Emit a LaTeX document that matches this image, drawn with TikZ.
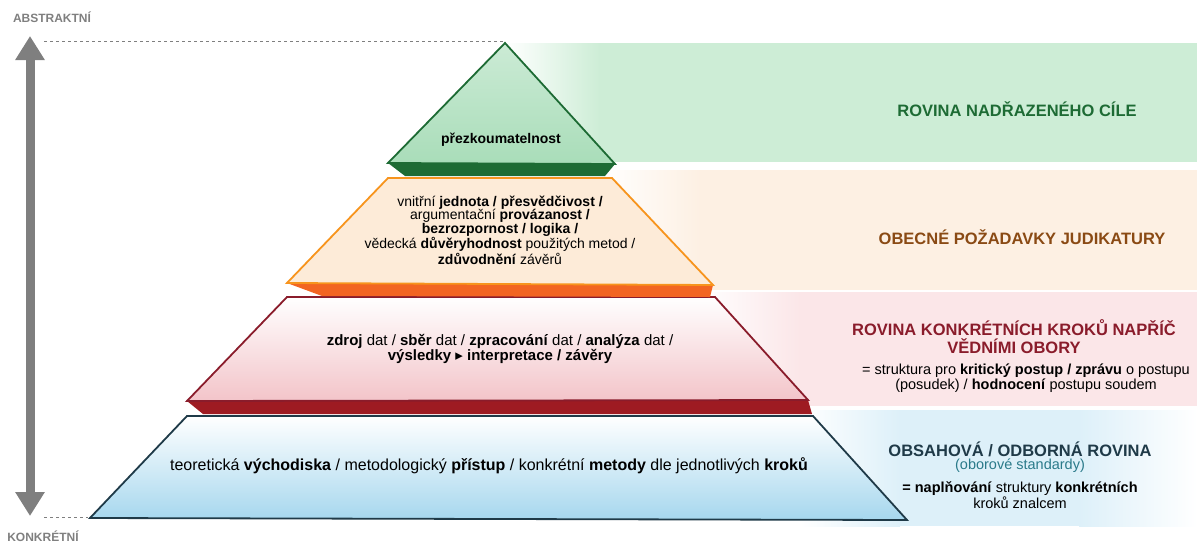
\documentclass[tikz,border=0pt]{standalone}
\usepackage{fontspec}
\setmainfont{Liberation Sans}
\newfontfamily\symfont{DejaVu Sans}
\usetikzlibrary{positioning}
\usetikzlibrary{calc}
\usetikzlibrary{arrows.meta}
\definecolor{goalgreen}{HTML}{1D6B34}
\definecolor{goalfill}{HTML}{A9DDB9}
\definecolor{goalband}{HTML}{CDEDD6}
\definecolor{judorange}{HTML}{F7941D}
\definecolor{judslab}{HTML}{F26522}
\definecolor{judfill}{HTML}{FDEBD8}
\definecolor{judband}{HTML}{FDF0E3}
\definecolor{judtext}{HTML}{8A4A14}
\definecolor{stepred}{HTML}{8A1C2B}
\definecolor{stepslab}{HTML}{9E1B22}
\definecolor{stepfill}{HTML}{F3C4C9}
\definecolor{stepband}{HTML}{FBE6E8}
\definecolor{basenavy}{HTML}{1F3A48}
\definecolor{basefill}{HTML}{A6D7EE}
\definecolor{baseband}{HTML}{DDF0F9}
\definecolor{baseteal}{HTML}{2A7A8A}
\definecolor{axisgray}{HTML}{7F7F7F}
\tikzset{
    % Work in pixels of the page, y running downwards
    px grid/.style={x=1pt, y=-1pt},
%
    % Outline of one pyramid level
    level face/.style={draw=#1, line width=1.8pt, line join=miter},
%
    % The darker thickness under a level
    level slab/.style={fill=#1},
%
    % Soft band behind the labels on the right
    band fade/.style={left color=white, right color=#1},
    band fill/.style={fill=#1},
%
    % Headings of the right hand column
    heading/.style={font=\bfseries\fontsize{16.5}{18}\selectfont, align=center},
    % Plain notes in the pyramid and on the right
    note/.style={font=\fontsize{14.5}{15}\selectfont, align=center}}

\begin{document}
\begin{tikzpicture}[px grid]

\tikzset{
    axis label/.style={text=axisgray, font=\bfseries\fontsize{12}{13}\selectfont},
    guide/.style={axisgray, dashed, line width=0.6pt}}

\useasboundingbox (0,0) rectangle (1197,544);

% bands behind the right column
\shade[band fade=goalband] (505,43) rectangle (600,162);
\path[band fill=goalband] (599,43) rectangle (1197,162);
\shade[band fade=judband] (600,170) rectangle (700,290);
\path[band fill=judband] (699,170) rectangle (1197,290);
\shade[band fade=stepband] (700,292) rectangle (800,406);
\path[band fill=stepband] (799,292) rectangle (1197,406);
\shade[band fade=baseband] (800,410) rectangle (900,526);
\path[band fill=baseband] (899,410) rectangle (1080,526);
\shade[left color=baseband, right color=white] (1079,410) rectangle (1197,526);

% axis on the left
\coordinate (abstract end) at (30,36);
\coordinate (concrete end) at (30,516);
\draw[axisgray, line width=9pt,
    {Triangle[width=28pt, length=24pt]}-{Triangle[width=28pt, length=24pt]}]
    (abstract end) -- (concrete end);
\node (abstract) [axis label] at (52,17) {ABSTRAKTNÍ};
\node (concrete) [axis label] at (43,536) {KONKRÉTNÍ};
\draw[guide] (44,41) -- (503,41);
\draw[guide] (44,517) -- (88,517);

% bottom level
\path[level face=basenavy, top color=white, bottom color=basefill]
    (187,416) -- (813,416) -- (907,520) -- (90,518) -- cycle;
% third level
\path[level slab=stepslab] (187,401) -- (808,400) -- (812,414) -- (203,414) -- cycle;
\path[level face=stepred, top color=white, bottom color=stepfill]
    (287,297) -- (715,297) -- (808,400) -- (187,401) -- cycle;
% second level
\path[level slab=judslab] (287,283) -- (713,285) -- (710,297) -- (322,296) -- cycle;
\path[level face=judorange, fill=judfill]
    (388,178) -- (612,178) -- (713,285) -- (287,283) -- cycle;
% top
\path[level slab=goalgreen] (388,163) -- (615,164) -- (605,176) -- (405,176) -- cycle;
\path[level face=goalgreen, top color=goalfill!60, bottom color=goalfill]
    (505,43) -- (615,164) -- (388,163) -- cycle;

% texts in the pyramid
\node (goal) [note, font=\bfseries\fontsize{14}{15}\selectfont] at (501,140)
    {přezkoumatelnost};
\node (general) [note, font=\fontsize{14}{13.7}\selectfont] at (500,230)
    {vnitřní \textbf{jednota / přesvědčivost /}\\
     argumentační \textbf{provázanost /}\\
     \textbf{bezrozpornost / logika /}\\
     vědecká \textbf{důvěryhodnost} použitých metod /\\
     \textbf{zdůvodnění} závěrů};
\node (steps) [note, font=\fontsize{15}{15}\selectfont] at (500,349)
    {\textbf{zdroj} dat / \textbf{sběr} dat / \textbf{zpracování} dat / \textbf{analýza} dat /\\
     \textbf{výsledky {\symfont▸} interpretace / závěry}};
\node (content) [note, font=\fontsize{16}{16}\selectfont] at (489,466)
    {teoretická \textbf{východiska} / metodologický \textbf{přístup} / konkrétní \textbf{metody} dle jednotlivých \textbf{kroků}};

% right column
\node (goal head) [heading, text=goalgreen] at (1017,109) {ROVINA NADŘAZENÉHO CÍLE};
\node (general head) [heading, text=judtext] at (1022,237) {OBECNÉ POŽADAVKY JUDIKATURY};
\node (steps head) [heading, text=stepred] at (1014,337)
    {ROVINA KONKRÉTNÍCH KROKŮ NAPŘÍČ\\VĚDNÍMI OBORY};
\node (steps note) [note] at (1026,378)
    {= struktura pro \textbf{kritický postup / zprávu} o postupu\\
     (posudek) / \textbf{hodnocení} postupu soudem};
\node (content head) [heading, text=basenavy] at (1020,449) {OBSAHOVÁ / ODBORNÁ ROVINA};
\node (content std) [note, text=baseteal] at (1020,466) {(oborové standardy)};
\node (content note) [note, font=\fontsize{14.5}{16}\selectfont] at (1020,495)
    {\textbf{= naplňování} struktury \textbf{konkrétních}\\kroků znalcem};

\end{tikzpicture}
\end{document}
